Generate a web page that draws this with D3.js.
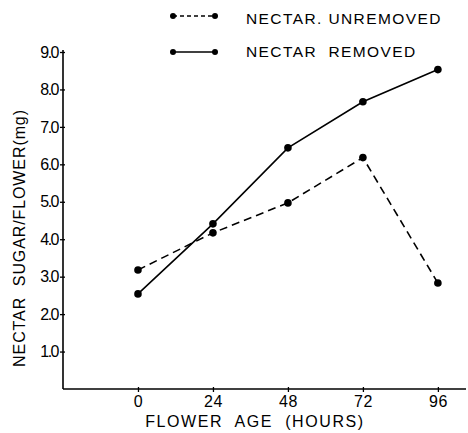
<!DOCTYPE html>
<html>
<head>
<meta charset="utf-8">
<script src="https://cdn.jsdelivr.net/npm/d3@7"></script>
<style>
  body { margin: 0; background: #fff; }
  svg { display: block; font-family: 'Liberation Sans', Arial, sans-serif; }
</style>
</head>
<body>
<div class="chart"></div>
<script>
// flower age in hours
const hours = [0, 24, 48, 72, 96]
// nectar sugar per flower (mg)
const unremoved = [3.18, 4.17, 4.97, 6.18, 2.83]
const removed = [2.54, 4.41, 6.44, 7.67, 8.53]
const yTicks = [1, 2, 3, 4, 5, 6, 7, 8, 9]
const seriesNames = ['NECTAR. UNREMOVED', 'NECTAR  REMOVED']

const fullWidth = 468
const fullHeight = 433

const svg = d3.select('.chart')
  .append('svg')
    .attr('width', fullWidth)
    .attr('height', fullHeight)

// scales
const xScale = d3.scaleLinear()
  .domain([-24, 105])
  .range([63, 466])
const yScale = d3.scaleLinear()
  .domain([0, 9])
  .range([389, 52])

// axes
const xAxis = d3.axisBottom(xScale)
  .tickValues(hours)
  .tickSizeInner(3)
  .tickSizeOuter(0)
  .tickPadding(4)
const yAxis = d3.axisLeft(yScale)
  .tickValues(yTicks)
  .tickFormat(d3.format('.1f'))
  .tickSizeInner(3)
  .tickSizeOuter(0)
  .tickPadding(2)

const gx = svg.append('g')
  .attr('transform', `translate(0, ${yScale(0)})`)
  .call(xAxis)
gx.select('.domain').attr('stroke-width', 1.6).attr('d', `M${xScale.range()[0]},0H${xScale.range()[1]}`)
gx.selectAll('.tick line').attr('y1', -2).attr('stroke-width', 1.3)
gx.selectAll('.tick text')
  .attr('font-size', 16)
  .attr('letter-spacing', 0.5)
  .attr('fill', '#000')

const gy = svg.append('g')
  .attr('transform', `translate(${xScale(-24)}, 0)`)
  .call(yAxis)
gy.select('.domain').attr('stroke-width', 1.6).attr('d', `M0,${yScale(0)}V${yScale(9) - 2}`)
gy.selectAll('.tick line').attr('x1', 2).attr('stroke-width', 1.3)
gy.selectAll('.tick text')
  .attr('font-size', 16)
  .attr('letter-spacing', -1.5)
  .attr('fill', '#000')

// axis titles
svg.append('text')
  .attr('x', 255)
  .attr('y', 427)
  .attr('text-anchor', 'middle')
  .attr('font-size', 16)
  .attr('letter-spacing', 1.6)
  .style('white-space', 'pre')
  .text('FLOWER  AGE  (HOURS)')
svg.append('text')
  .attr('transform', 'translate(25, 238) rotate(-90)')
  .attr('text-anchor', 'middle')
  .attr('font-size', 16)
  .attr('letter-spacing', 0.9)
  .style('white-space', 'pre')
  .text('NECTAR  SUGAR/FLOWER(mg)')

// lines
const line = d3.line()
  .x((d, i) => xScale(hours[i]))
  .y(d => yScale(d))

const series = [
  { name: seriesNames[0], values: unremoved, dash: '8,5' },
  { name: seriesNames[1], values: removed, dash: null }
]

series.forEach(s => {
  svg.append('path')
    .datum(s.values)
    .attr('d', line)
    .attr('fill', 'none')
    .attr('stroke', '#000')
    .attr('stroke-width', 1.6)
    .attr('stroke-dasharray', s.dash)
  svg.selectAll(null)
    .data(s.values)
    .enter()
    .append('circle')
      .attr('cx', (d, i) => xScale(hours[i]))
      .attr('cy', d => yScale(d))
      .attr('r', 3.8)
      .attr('fill', '#000')
})

// legend
const legend = svg.append('g')
const legendRows = [16, 52]
series.forEach((s, i) => {
  const g = legend.append('g').attr('transform', `translate(0, ${legendRows[i]})`)
  g.append('line')
    .attr('x1', 173).attr('x2', 215)
    .attr('stroke', '#000')
    .attr('stroke-width', 1.5)
    .attr('stroke-dasharray', i === 0 ? '4,3' : null)
  g.selectAll('circle')
    .data([173, 215])
    .enter()
    .append('circle')
      .attr('cx', d => d)
      .attr('r', 3)
      .attr('fill', '#000')
  g.append('text')
    .attr('x', 246)
    .attr('y', i === 0 ? 8 : 5)
    .attr('font-size', 15.5)
    .attr('letter-spacing', 1.4)
    .style('white-space', 'pre')
    .text(s.name)
})
</script>
</body>
</html>
